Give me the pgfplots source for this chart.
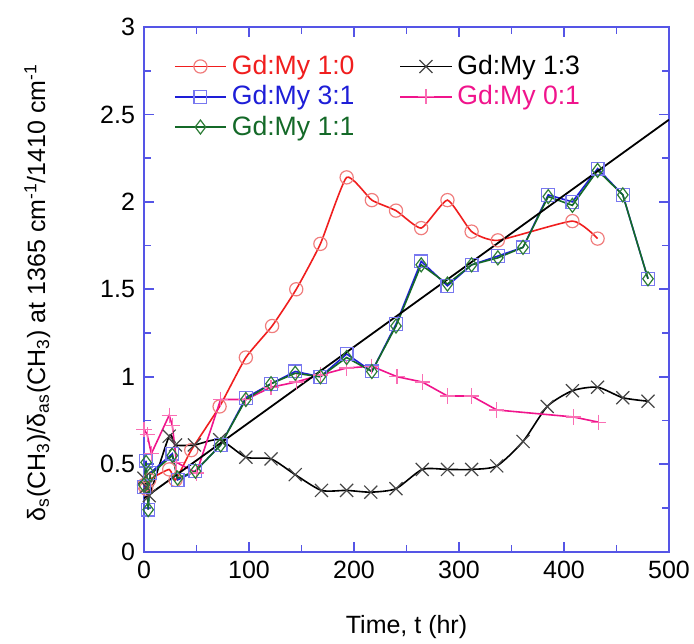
\documentclass[border=0pt]{standalone}
\usepackage{pgfplots}
\pgfplotsset{compat=1.18}
\usepackage{fontspec}
\setmainfont{Liberation Sans}

\definecolor{frameblue}{RGB}{85,85,230}
\definecolor{redline}{RGB}{240,30,30}
\definecolor{redmark}{RGB}{240,125,125}
\definecolor{blueline}{RGB}{30,30,215}
\definecolor{bluemark}{RGB}{120,120,240}
\definecolor{greenline}{RGB}{20,105,40}
\definecolor{greenmark}{RGB}{45,125,55}
\definecolor{pinkline}{RGB}{240,20,140}
\definecolor{pinkmark}{RGB}{250,110,180}
\definecolor{graymark}{RGB}{70,70,70}

% Gd:My 1:0
\pgfplotstableread{
t r
0 0.38
2 0.36
5 0.41
24 0.47
30 0.41
45 0.58
72 0.83
97 1.11
122 1.29
145 1.50
168 1.76
193 2.14
217 2.01
240 1.95
264 1.85
289 2.01
312 1.83
337 1.78
408 1.89
432 1.79
}\redtab

% Gd:My 1:3
\pgfplotstableread{
t r
0 0.42
2 0.37
5 0.32
24 0.66
30 0.61
48 0.61
72 0.64
97 0.54
121 0.53
144 0.44
169 0.35
193 0.35
216 0.34
240 0.36
265 0.47
289 0.47
312 0.47
336 0.49
361 0.63
384 0.83
408 0.92
432 0.94
456 0.88
480 0.86
}\blacktab

% Gd:My 3:1
\pgfplotstableread{
t r
0 0.37
2 0.52
4 0.24
6 0.45
27 0.56
32 0.41
49 0.46
73 0.61
97 0.88
121 0.96
144 1.03
168 1.00
193 1.13
217 1.03
240 1.30
264 1.66
289 1.52
312 1.64
337 1.69
361 1.74
385 2.04
408 2.00
432 2.19
456 2.04
480 1.56
}\bluetab

% Gd:My 0:1
\pgfplotstableread{
t r
0 0.70
3 0.67
7 0.56
24 0.78
27 0.72
31 0.51
50 0.45
73 0.87
97 0.87
121 0.94
145 0.97
168 1.01
193 1.05
217 1.06
241 1.00
265 0.97
289 0.89
312 0.89
336 0.81
409 0.77
433 0.74
}\pinktab

% Gd:My 1:1
\pgfplotstableread{
t r
0 0.38
2 0.51
4 0.24
6 0.44
27 0.55
32 0.42
49 0.46
73 0.61
97 0.87
121 0.96
144 1.02
168 1.00
193 1.11
217 1.03
240 1.29
264 1.64
289 1.53
312 1.64
337 1.68
361 1.74
385 2.03
408 1.98
432 2.18
456 2.04
480 1.56
}\greentab

\begin{document}
\begin{tikzpicture}
\begin{axis}[
  name=ax,
  scale only axis,
  width=262.5pt, height=262.3pt,
  xmin=0, xmax=500, ymin=0, ymax=3,
  xtick={0,100,...,500},
  ytick={0,0.5,...,3},
  minor x tick num=1, minor y tick num=1,
  tick align=inside,
  axis line style={frameblue, line width=0.9pt},
  every tick/.style={frameblue, line width=0.9pt},
  major tick length=5pt, minor tick length=3.5pt,
  tick label style={font=\fontsize{12.5}{14}\selectfont},
  xticklabel style={yshift=-1pt},
  yticklabel style={xshift=-1pt},
  /pgf/number format/assume math mode=true,
  /pgf/number format/fixed,
  xlabel={Time, t (hr)},
  xlabel style={at={(axis description cs:0.5,0)}, anchor=center, yshift=-37.5pt, font=\fontsize{12.5}{14}\selectfont},
  ylabel={δ\textsubscript{s}(CH\textsubscript{3})/δ\textsubscript{as}(CH\textsubscript{3}) at 1365 cm\textsuperscript{-1}/1410 cm\textsuperscript{-1}},
  ylabel style={at={(axis description cs:-0.203,0.494)}, anchor=center, font=\fontsize{12.5}{15}\selectfont},
  legend columns=2,
  legend cell align=left,
  legend style={at={(axis description cs:0.045,0.962)}, anchor=north west, draw=none, fill=none,
    font=\fontsize{13.3}{15.5}\selectfont, column sep=0pt, row sep=0pt,
    nodes={inner xsep=2.5pt},
    /tikz/every even column/.append style={column sep=20pt}},
  legend image code/.code={\draw[mark repeat=2,mark phase=2] plot coordinates {(0cm,0cm) (0.45cm,0cm) (0.9cm,0cm)};},
  every axis plot/.append style={line width=0.8pt},
]
\addplot[redline, smooth, tension=0.3, mark=o, mark size=3.3pt, mark options={redmark, line width=0.6pt}] table[x=t, y=r] {\redtab};
\addlegendentry{\textcolor{redline}{Gd:My 1:0}}
\addplot[black, smooth, tension=0.4, mark=x, mark size=4.6pt, mark options={graymark, line width=0.6pt}] table[x=t, y=r] {\blacktab};
\addlegendentry{\textcolor{black}{Gd:My 1:3}}
\addplot[blueline, mark=square, mark size=3.2pt, mark options={bluemark, line width=0.6pt}] table[x=t, y=r] {\bluetab};
\addlegendentry{\textcolor{blueline}{Gd:My 3:1}}
\addplot[pinkline, mark=+, mark size=3.8pt, mark options={pinkmark, line width=0.6pt}] table[x=t, y=r] {\pinktab};
\addlegendentry{\textcolor{pinkline}{Gd:My 0:1}}
\addplot[greenline, mark=diamond, mark size=3.5pt, mark options={greenmark, line width=0.6pt}] table[x=t, y=r] {\greentab};
\addlegendentry{\textcolor{greenline}{Gd:My 1:1}}
% linear fit
\addplot[black, line width=0.9pt, forget plot] coordinates {(0,0.305) (500,2.47)};
\end{axis}
\pgfresetboundingbox
\path ([shift={(-72pt,-45.7pt)}]ax.south west) rectangle ([shift={(12.5pt,13.5pt)}]ax.north east);
\end{tikzpicture}
\end{document}
